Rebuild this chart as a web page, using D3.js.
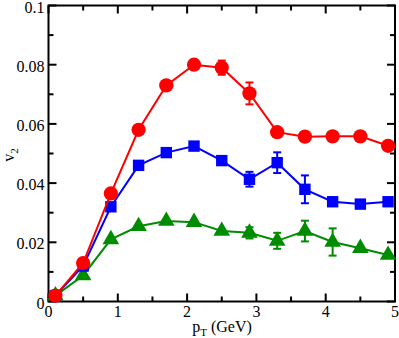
<!DOCTYPE html>
<html>
<head>
<meta charset="utf-8">
<script src="https://cdn.jsdelivr.net/npm/d3@7"></script>
<style>
  body { margin: 0; background: #fff; }
</style>
</head>
<body>
<svg width="399" height="338"></svg>
<script>
// pT bins (GeV)
var pt = [0.1, 0.5, 0.9, 1.3, 1.7, 2.1, 2.5, 2.9, 3.3, 3.7, 4.1, 4.5, 4.9];

// v2 per series, with error bars (0 = no visible bar)
var redV2   = [0.002, 0.013, 0.0365, 0.058, 0.073, 0.080, 0.079, 0.0703, 0.0572, 0.0557, 0.0558, 0.0558, 0.0526];
var redErr  = [0, 0, 0, 0, 0, 0, 0.0024, 0.0037, 0, 0, 0, 0, 0];
var blueV2  = [0.002, 0.012, 0.032, 0.046, 0.0503, 0.0525, 0.0476, 0.0413, 0.0469, 0.0379, 0.0337, 0.0329, 0.0337];
var blueErr = [0, 0, 0, 0, 0, 0, 0, 0.0025, 0.0035, 0.0047, 0, 0, 0];
var greenV2  = [0.002, 0.0088, 0.021, 0.0254, 0.0272, 0.0268, 0.0238, 0.0232, 0.0205, 0.0238, 0.0201, 0.018, 0.0157];
var greenErr = [0, 0, 0, 0, 0, 0, 0, 0.0019, 0.0027, 0.0035, 0.0046, 0, 0];

var xTicks = [0, 1, 2, 3, 4, 5];
var yTicks = [0, 0.02, 0.04, 0.06, 0.08, 0.1];

var FONT = "'Liberation Serif', 'Times New Roman', serif";

var svg = d3.select("svg");
var x = d3.scaleLinear().domain([0, 5]).range([48.5, 395]);
var y = d3.scaleLinear().domain([0, 0.1]).range([301.5, 5.5]);

var g = svg.append("g").attr("font-family", FONT);

// ticks, major and minor, mirrored on all four sides
var xMinor = d3.range(0, 5.01, 0.5), yMinor = d3.range(0, 0.1001, 0.01);
var t = g.append("g").attr("stroke", "#000").attr("stroke-width", 2);
xMinor.forEach(function(v, i) {
  var len = (i % 2 == 0) ? 8 : 5;
  t.append("line").attr("x1", x(v)).attr("x2", x(v)).attr("y1", y(0)).attr("y2", y(0) - len);
  t.append("line").attr("x1", x(v)).attr("x2", x(v)).attr("y1", y(0.1)).attr("y2", y(0.1) + len);
});
yMinor.forEach(function(v, i) {
  var len = (i % 2 == 0) ? 8 : 5;
  t.append("line").attr("y1", y(v)).attr("y2", y(v)).attr("x1", x(0)).attr("x2", x(0) + len);
  t.append("line").attr("y1", y(v)).attr("y2", y(v)).attr("x1", x(5)).attr("x2", x(5) - len);
});

g.append("rect")
  .attr("x", x(0)).attr("y", y(0.1))
  .attr("width", x(5) - x(0)).attr("height", y(0) - y(0.1))
  .attr("fill", "none").attr("stroke", "#000").attr("stroke-width", 2);

// tick labels
g.selectAll(".xl").data(xTicks).enter().append("text")
  .attr("x", function(d) { return x(d); }).attr("y", y(0) + 15.5)
  .attr("text-anchor", "middle").attr("font-size", 16)
  .text(function(d) { return d; });
g.selectAll(".yl").data(yTicks).enter().append("text")
  .attr("x", x(0) - 4).attr("y", function(d) { return y(d) + 7; })
  .attr("text-anchor", "end").attr("font-size", 16)
  .text(function(d) { return d === 0 ? "0" : d3.format(".2~f")(d); });

// axis titles
var xt = g.append("text").attr("x", 222).attr("y", 332).attr("text-anchor", "middle").attr("font-size", 16);
xt.append("tspan").text("p");
xt.append("tspan").attr("font-size", 11).attr("dy", 4).text("T");
xt.append("tspan").attr("dy", -4).text(" (GeV)");

var yt = g.append("text").attr("transform", "translate(14,155) rotate(-90)")
  .attr("text-anchor", "middle").attr("font-size", 16);
yt.append("tspan").text("v");
yt.append("tspan").attr("font-size", 11).attr("dy", 4).text("2");

var line = d3.line().x(function(d) { return x(d[0]); }).y(function(d) { return y(d[1]); });

function drawSeries(vals, errs, color, shape) {
  var pts = pt.map(function(p, i) { return [p, vals[i], errs[i]]; });
  var s = g.append("g");
  s.append("path").datum(pts).attr("d", line)
    .attr("fill", "none").attr("stroke", color).attr("stroke-width", 2);
  pts.filter(function(d) { return d[2] > 0; }).forEach(function(d) {
    var cx = x(d[0]), y1 = y(d[1] + d[2]), y2 = y(d[1] - d[2]);
    s.append("line").attr("x1", cx).attr("x2", cx).attr("y1", y1).attr("y2", y2).attr("stroke", color).attr("stroke-width", 2);
    s.append("line").attr("x1", cx - 4).attr("x2", cx + 4).attr("y1", y1).attr("y2", y1).attr("stroke", color).attr("stroke-width", 2);
    s.append("line").attr("x1", cx - 4).attr("x2", cx + 4).attr("y1", y2).attr("y2", y2).attr("stroke", color).attr("stroke-width", 2);
  });
  var sym = d3.symbol().type(shape).size(shape === d3.symbolCircle ? 160 : (shape === d3.symbolSquare ? 130 : 120));
  s.selectAll(".m").data(pts).enter().append("path")
    .attr("d", sym)
    .attr("transform", function(d) { return "translate(" + x(d[0]) + "," + y(d[1]) + ")"; })
    .attr("fill", color);
}

drawSeries(greenV2, greenErr, "#008c00", d3.symbolTriangle);
drawSeries(blueV2, blueErr, "#0000ff", d3.symbolSquare);
drawSeries(redV2, redErr, "#ff0000", d3.symbolCircle);
</script>
</body>
</html>
